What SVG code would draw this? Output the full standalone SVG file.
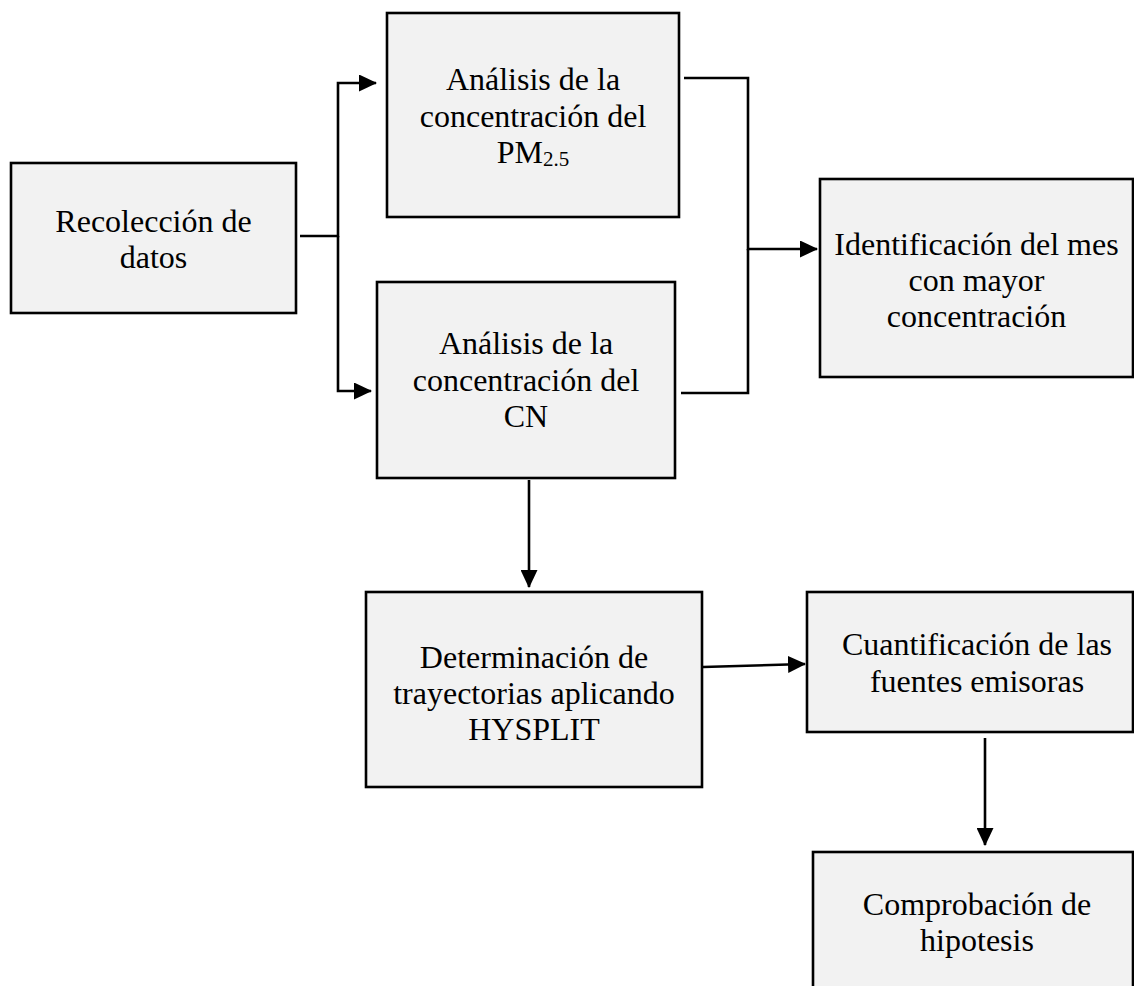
<svg xmlns="http://www.w3.org/2000/svg" width="1134" height="986" viewBox="0 0 1134 986">
<style>
.box{fill:#f2f2f2;stroke:#000;stroke-width:2.6}
.lbl{font-family:"Liberation Serif","Times New Roman",serif;font-size:32px;fill:#000;text-anchor:middle}
.con{fill:none;stroke:#000;stroke-width:2.6}
</style>
<defs>
<marker id="ah" markerUnits="userSpaceOnUse" markerWidth="18" markerHeight="17" refX="17" refY="8.5" orient="auto">
<path d="M0,0 L18,8.5 L0,17 z" fill="#000"/>
</marker>
</defs>
<rect width="1134" height="986" fill="#fff"/>
<g id="connectors">
<path class="con" d="M300,236 H338 V83 H376" marker-end="url(#ah)"/>
<path class="con" d="M338,236 V391 H371" marker-end="url(#ah)"/>
<path class="con" d="M684,78 H748 V249 H817" marker-end="url(#ah)"/>
<path class="con" d="M681,393 H748 V249"/>
<path class="con" d="M529,480 V587" marker-end="url(#ah)"/>
<path class="con" d="M703,667 L805,664" marker-end="url(#ah)"/>
<path class="con" d="M985,738 V845" marker-end="url(#ah)"/>
</g>
<g id="recoleccion">
<rect class="box" x="11" y="163" width="285" height="150"/>
<text class="lbl" x="153.5" y="232">Recolección de</text>
<text class="lbl" x="153.5" y="268">datos</text>
</g>
<g id="analisis-pm">
<rect class="box" x="387" y="13" width="292" height="204"/>
<text class="lbl" x="533" y="90">Análisis de la</text>
<text class="lbl" x="533" y="127">concentración del</text>
<text class="lbl" x="533" y="163">PM<tspan font-size="21" dy="3">2.5</tspan></text>
</g>
<g id="analisis-cn">
<rect class="box" x="377" y="282" width="298" height="196"/>
<text class="lbl" x="526" y="354">Análisis de la</text>
<text class="lbl" x="526" y="391">concentración del</text>
<text class="lbl" x="526" y="427">CN</text>
</g>
<g id="identificacion">
<rect class="box" x="820" y="179" width="313" height="198"/>
<text class="lbl" x="976.5" y="255">Identificación del mes</text>
<text class="lbl" x="976.5" y="291">con mayor</text>
<text class="lbl" x="976.5" y="327">concentración</text>
</g>
<g id="hysplit">
<rect class="box" x="366" y="592" width="336" height="195"/>
<text class="lbl" x="534" y="668">Determinación de</text>
<text class="lbl" x="534" y="704">trayectorias aplicando</text>
<text class="lbl" x="534" y="740">HYSPLIT</text>
</g>
<g id="cuantificacion">
<rect class="box" x="807" y="592" width="326" height="140"/>
<text class="lbl" x="977" y="655">Cuantificación de las</text>
<text class="lbl" x="977" y="692">fuentes emisoras</text>
</g>
<g id="comprobacion">
<rect class="box" x="813" y="852" width="320" height="150"/>
<text class="lbl" x="977" y="915">Comprobación de</text>
<text class="lbl" x="977" y="951">hipotesis</text>
</g>
</svg>
